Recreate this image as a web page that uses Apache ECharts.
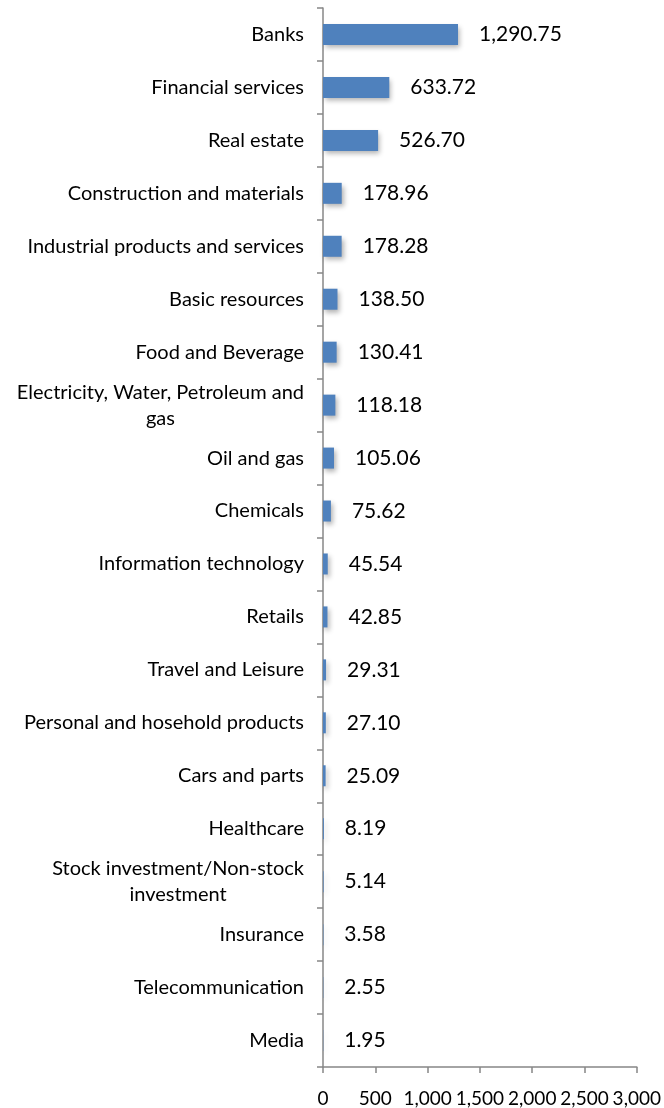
<!DOCTYPE html>
<html>
<head>
<meta charset="utf-8">
<script src="https://cdn.jsdelivr.net/npm/echarts@6/dist/echarts.min.js"></script>
<style>
  html, body { margin: 0; padding: 0; background: #ffffff; }
  #chart { width: 664px; height: 1108px; }
</style>
</head>
<body>
<div id="chart"></div>
<script>
// Sector values, top to bottom
const categories = [
  'Banks',
  'Financial services',
  'Real estate',
  'Construction and materials',
  'Industrial products and services',
  'Basic resources',
  'Food and Beverage',
  'Electricity, Water, Petroleum and\ngas',
  'Oil and gas',
  'Chemicals',
  'Information technology',
  'Retails',
  'Travel and Leisure',
  'Personal and hosehold products',
  'Cars and parts',
  'Healthcare',
  'Stock investment/Non-stock\ninvestment',
  'Insurance',
  'Telecommunication',
  'Media'
];
const values = [
  1290.75, 633.72, 526.70, 178.96, 178.28, 138.50, 130.41, 118.18, 105.06, 75.62,
  45.54, 42.85, 29.31, 27.10, 25.09, 8.19, 5.14, 3.58, 2.55, 1.95
];
const tickLabels = ['0', '500', '1,000', '1,500', '2,000', '2,500', '3,000'];

const FONT = 'Lato';
const fmt = v => v.toLocaleString('en-US', { minimumFractionDigits: 2, maximumFractionDigits: 2 });

const chart = echarts.init(document.getElementById('chart'), null, { renderer: 'canvas' });
chart.setOption({
  animation: false,
  backgroundColor: '#ffffff',
  grid: { left: 323, right: 22, top: 8, bottom: 38, containLabel: false },
  xAxis: {
    type: 'value',
    min: 0,
    max: 3000,
    interval: 500,
    splitLine: { show: false },
    axisLine: { show: true, lineStyle: { color: '#878787', width: 1.5 } },
    axisTick: { show: true, length: 6, lineStyle: { color: '#878787', width: 1.5 } },
    axisLabel: {
      margin: 22,
      fontFamily: FONT,
      fontSize: 19,
      color: '#000000',
      formatter: v => tickLabels[Math.round(v / 500)]
    }
  },
  yAxis: {
    type: 'category',
    inverse: true,
    data: categories,
    axisLine: { show: true, lineStyle: { color: '#878787', width: 1.5 } },
    axisTick: { show: true, length: 6, lineStyle: { color: '#878787', width: 1.5 } },
    axisLabel: {
      margin: 19,
      fontFamily: FONT,
      fontSize: 20,
      color: '#000000',
      lineHeight: 26,
      formatter: v => v.split('\n').map(s => '{c|' + s + '}').join('\n'),
      rich: { c: { align: 'center', fontFamily: FONT, fontSize: 20, lineHeight: 26, color: '#000000' } }
    }
  },
  series: [{
    type: 'bar',
    data: values,
    barWidth: 21,
    itemStyle: {
      color: '#4F81BD',
      shadowColor: 'rgba(0,0,0,0.3)',
      shadowBlur: 5,
      shadowOffsetX: 2,
      shadowOffsetY: 3
    },
    label: {
      show: true,
      position: 'right',
      distance: 21,
      fontFamily: FONT,
      fontSize: 21,
      color: '#000000',
      formatter: p => fmt(p.value)
    }
  }]
});
</script>
</body>
</html>
